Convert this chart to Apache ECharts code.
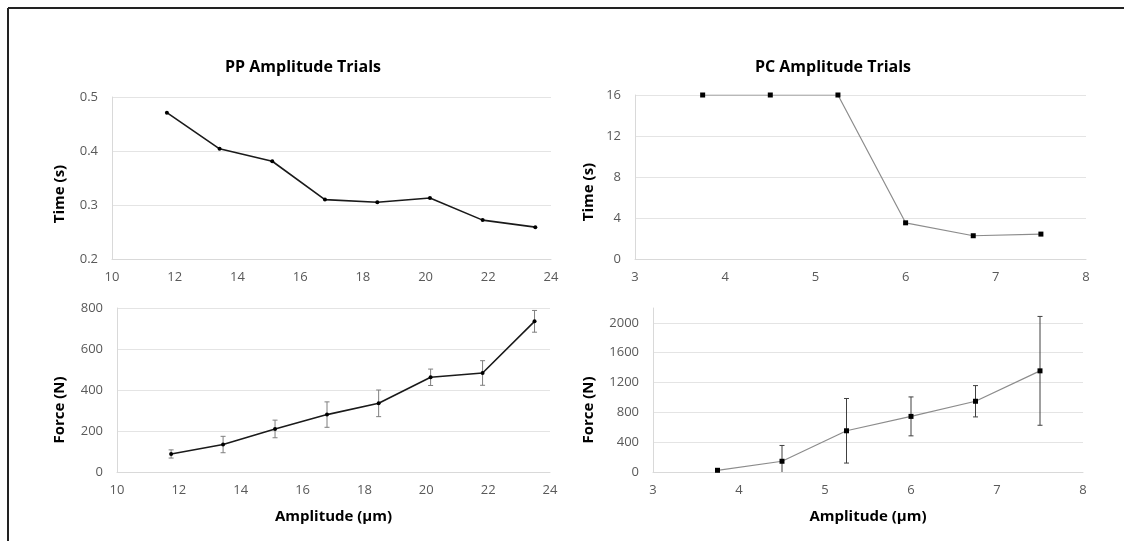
<!DOCTYPE html>
<html>
<head>
<meta charset="utf-8">
<script src="https://cdn.jsdelivr.net/npm/echarts@6/dist/echarts.min.js"></script>
<style>
  html, body { margin: 0; padding: 0; background: #fff; overflow: hidden; }
  #chart { width: 1124px; height: 541px; }
</style>
</head>
<body>
<div id="chart"></div>
<script>
// PP trials
const ppAmp = [11.75, 13.43, 15.11, 16.79, 18.46, 20.14, 21.82, 23.5];
const ppTime = [0.471, 0.404, 0.381, 0.31, 0.305, 0.313, 0.272, 0.259];
const ppForce = [88, 134, 210, 280, 335, 462, 483, 735];
const ppForceErr = [20, 40, 43, 62, 65, 40, 60, 53];

// PC trials
const pcAmp = [3.75, 4.5, 5.25, 6, 6.75, 7.5];
const pcTime = [16, 16, 16, 3.53, 2.27, 2.43];
const pcForce = [23, 144, 553, 746, 949, 1357];
const pcForceErr = [12, 212, 433, 261, 210, 730];

const FONT = "Open Sans";
const labelStyle = { color: "#595959", fontSize: 13, fontFamily: FONT };
const gridLine = { lineStyle: { color: "#e4e4e4", width: 1 } };
const axisLine = { show: true, lineStyle: { color: "#d9d9d9", width: 1 } };
const plain = (v) => String(v);

function pairs(xs, ys) {
  return xs.map((x, i) => [x, ys[i]]);
}
function errData(xs, ys, errs) {
  return xs.map((x, i) => [x, ys[i] - errs[i], ys[i] + errs[i]]);
}
function errorBars(color, cap, width) {
  return function (params, api) {
    const top = api.coord([api.value(0), api.value(2)]);
    const bot = api.coord([api.value(0), api.value(1)]);
    const style = { stroke: color, lineWidth: width };
    return {
      type: "group",
      children: [
        { type: "line", shape: { x1: top[0], y1: top[1], x2: bot[0], y2: bot[1] }, style },
        { type: "line", shape: { x1: top[0] - cap, y1: top[1], x2: top[0] + cap, y2: top[1] }, style },
        { type: "line", shape: { x1: bot[0] - cap, y1: bot[1], x2: bot[0] + cap, y2: bot[1] }, style },
      ],
    };
  };
}
function xAxis(gridIndex, min, max, interval, name) {
  return {
    type: "value",
    gridIndex,
    min,
    max,
    interval,
    axisLine,
    axisTick: { show: false },
    splitLine: { show: false },
    axisLabel: Object.assign({ margin: 12, formatter: plain }, labelStyle),
    name: name || "",
    nameLocation: "middle",
    nameGap: 37,
    nameTextStyle: { color: "#000", fontSize: 15, fontWeight: "bold", fontFamily: FONT },
  };
}
function yAxis(gridIndex, min, max, interval, fmt, extra) {
  return Object.assign({
    type: "value",
    gridIndex,
    min,
    max,
    interval,
    axisLine,
    axisTick: { show: false },
    splitLine: gridLine,
    axisLabel: Object.assign({ margin: 14, formatter: fmt || plain }, labelStyle),
  }, extra || {});
}
function axisTitle(text, x, y) {
  return {
    type: "text",
    x,
    y,
    rotation: Math.PI / 2,
    style: {
      text,
      align: "center",
      verticalAlign: "middle",
      font: "bold 15px '" + FONT + "'",
      fill: "#000",
    },
  };
}

const chart = echarts.init(document.getElementById("chart"));
chart.setOption({
  animation: false,
  backgroundColor: "#fff",
  title: [
    { text: "PP Amplitude Trials", left: 303, top: 59, textAlign: "center", padding: 0,
      textStyle: { fontSize: 16, fontWeight: "bold", fontFamily: FONT, color: "#000" } },
    { text: "PC Amplitude Trials", left: 833, top: 59, textAlign: "center", padding: 0,
      textStyle: { fontSize: 16, fontWeight: "bold", fontFamily: FONT, color: "#000" } },
  ],
  grid: [
    { left: 112, top: 97, width: 439, height: 162 },
    { left: 635, top: 95, width: 451, height: 164 },
    { left: 117, top: 308, width: 433, height: 164 },
    { left: 653, top: 308, width: 430, height: 164 },
  ],
  xAxis: [
    xAxis(0, 10, 24, 2),
    xAxis(1, 3, 8, 1),
    xAxis(2, 10, 24, 2, "Amplitude (µm)"),
    xAxis(3, 3, 8, 1, "Amplitude (µm)"),
  ],
  yAxis: [
    yAxis(0, 0.2, 0.5, 0.1, (v) => v.toFixed(1)),
    yAxis(1, 0, 16, 4),
    yAxis(2, 0, 800, 200),
    yAxis(3, 0, 2200, 400, null, {
      axisLabel: Object.assign({ margin: 14, showMaxLabel: false, formatter: plain }, labelStyle),
      splitLine: Object.assign({ showMaxLine: false }, gridLine),
    }),
  ],
  graphic: [
    { type: "line", shape: { x1: 8, y1: 8, x2: 1124, y2: 8 },
      style: { stroke: "#222", lineWidth: 2 } },
    { type: "line", shape: { x1: 8, y1: 8, x2: 8, y2: 541 },
      style: { stroke: "#222", lineWidth: 2 } },
    axisTitle("Time (s)", 60, 194),
    axisTitle("Time (s)", 589, 192),
    axisTitle("Force (N)", 60, 410),
    axisTitle("Force (N)", 589, 410),
  ],
  series: [
    {
      type: "line", xAxisIndex: 0, yAxisIndex: 0,
      data: pairs(ppAmp, ppTime),
      symbol: "circle", symbolSize: 4,
      lineStyle: { color: "#1a1a1a", width: 1.6 },
      itemStyle: { color: "#000" },
    },
    {
      type: "line", xAxisIndex: 1, yAxisIndex: 1,
      data: pairs(pcAmp, pcTime),
      symbol: "rect", symbolSize: 5,
      lineStyle: { color: "#8c8c8c", width: 1.2 },
      itemStyle: { color: "#000" },
    },
    {
      type: "custom", xAxisIndex: 2, yAxisIndex: 2, clip: true,
      data: errData(ppAmp, ppForce, ppForceErr),
      renderItem: errorBars("#7f7f7f", 2.5, 1),
      z: 1,
    },
    {
      type: "line", xAxisIndex: 2, yAxisIndex: 2,
      data: pairs(ppAmp, ppForce),
      symbol: "circle", symbolSize: 4,
      lineStyle: { color: "#1a1a1a", width: 1.6 },
      itemStyle: { color: "#000" },
      z: 3,
    },
    {
      type: "custom", xAxisIndex: 3, yAxisIndex: 3, clip: true,
      data: errData(pcAmp, pcForce, pcForceErr),
      renderItem: errorBars("#404040", 2.5, 1),
      z: 1,
    },
    {
      type: "line", xAxisIndex: 3, yAxisIndex: 3,
      data: pairs(pcAmp, pcForce),
      symbol: "rect", symbolSize: 5,
      lineStyle: { color: "#8c8c8c", width: 1.2 },
      itemStyle: { color: "#000" },
      z: 3,
    },
  ],
});
</script>
</body>
</html>
